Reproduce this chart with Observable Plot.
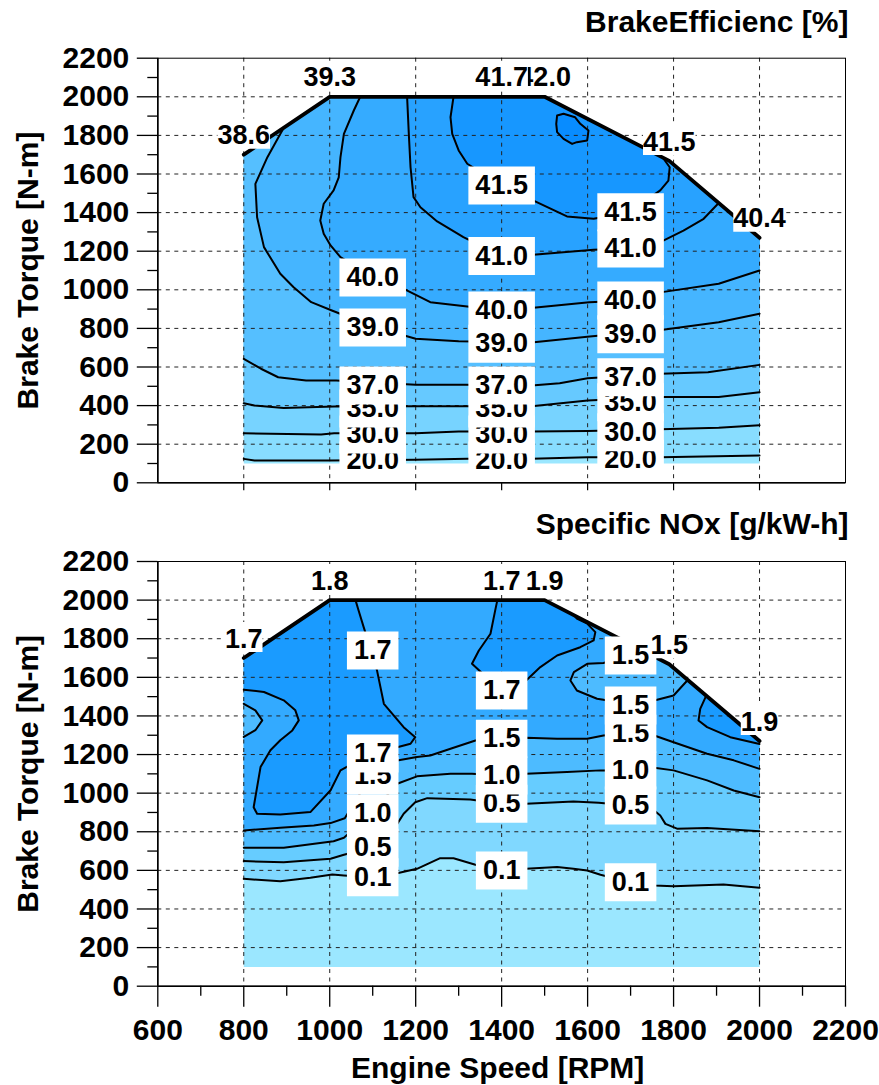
<!DOCTYPE html>
<html>
<head>
<meta charset="utf-8">
<script src="https://cdn.jsdelivr.net/npm/d3@7"></script>
<script src="https://cdn.jsdelivr.net/npm/@observablehq/plot@0.6"></script>
<style>
  body { margin: 0; background: #fff; }
  #bte { position: absolute; left: 0; top: 0; }
  #nox { position: absolute; left: 0; top: 503px; }
</style>
</head>
<body>
<div id="bte"></div>
<div id="nox"></div>
<script>
// ---- axes ----
const rpmMajor = [600, 800, 1000, 1200, 1400, 1600, 1800, 2000, 2200];
const rpmMinor = [700, 900, 1100, 1300, 1500, 1700, 1900, 2100];
const rpmGrid = [800, 1000, 1200, 1400, 1600, 1800, 2000];
const torqueMajor = [0, 200, 400, 600, 800, 1000, 1200, 1400, 1600, 1800, 2000, 2200];
const torqueMinor = [100, 300, 500, 700, 900, 1100, 1300, 1500, 1700, 1900, 2100];
const torqueGrid = [200, 400, 600, 800, 1000, 1200, 1400, 1600, 1800, 2000];

// ---- operating envelope [rpm, N-m] ----
const envelope = [[800, 100], [800, 1700], [1000, 2000], [1500, 2000], [1790, 1668], [2000, 1270], [2000, 100]];
const fullLoad = [[800, 1700], [1000, 2000], [1500, 2000], [1790, 1668], [2000, 1270]];

// ---- brake efficiency contours [%] ----
const bte20 = [[800, 124], [825, 116], [1000, 116], [1200, 119], [1320, 124], [1470, 124], [1600, 133], [1770, 133], [2000, 141]];
const bte30 = [[800, 257], [980, 250], [1010, 257], [1200, 257], [1300, 266], [1470, 266], [1600, 269], [1770, 278], [1905, 285], [2000, 298]];
const bte35 = [[800, 412], [825, 400], [893, 387], [1010, 395], [1200, 397], [1470, 397], [1600, 426], [1770, 444], [1905, 444], [2000, 469]];
const bte37 = [[800, 642], [840, 591], [880, 547], [945, 530], [1015, 530], [1200, 508], [1315, 508], [1470, 504], [1535, 516], [1600, 542], [1770, 565], [1880, 573], [2000, 611]];
const bte39 = [[893, 1840], [855, 1687], [827, 1549], [831, 1376], [847, 1221], [885, 1083], [916, 1013], [957, 936], [1005, 893], [1100, 810], [1200, 746], [1300, 734], [1475, 728], [1605, 758], [1775, 793], [1905, 832], [2000, 876]];
const bte40 = [[1071, 2000], [1056, 1929], [1033, 1808], [1025, 1687], [1021, 1583], [1009, 1515], [986, 1446], [978, 1359], [986, 1290], [1002, 1230], [1025, 1169], [1100, 1064], [1177, 1000], [1234, 936], [1320, 913], [1400, 893], [1474, 907], [1604, 936], [1696, 945], [1773, 988], [1905, 1031], [2000, 1100]];
const bte41 = [[1180, 2000], [1184, 1808], [1188, 1635], [1195, 1480], [1211, 1428], [1250, 1354], [1311, 1273], [1398, 1178], [1473, 1181], [1614, 1207], [1696, 1214], [1769, 1247], [1823, 1307], [1870, 1368], [1905, 1450]];
const bte415 = [[1288, 2000], [1281, 1894], [1285, 1808], [1300, 1722], [1320, 1653], [1400, 1541], [1473, 1463], [1552, 1380], [1614, 1368], [1696, 1402], [1769, 1515], [1788, 1566], [1791, 1635], [1775, 1685]];
const bte42 = [[1529, 1903], [1544, 1912], [1571, 1894], [1583, 1860], [1602, 1825], [1599, 1774], [1575, 1765], [1564, 1756], [1544, 1782], [1529, 1817], [1527, 1860]];

const bteLabels = [
  [1100, 116, "20.0"], [1100, 250, "30.0"], [1100, 385, "35.0"], [1100, 504, "37.0"], [1100, 805, "39.0"], [1100, 1064, "40.0"],
  [1400, 116, "20.0"], [1400, 250, "30.0"], [1400, 385, "35.0"], [1400, 504, "37.0"], [1400, 720, "39.0"], [1400, 893, "40.0"], [1400, 1175, "41.0"], [1400, 1541, "41.5"],
  [1700, 124, "20.0"], [1700, 262, "30.0"], [1700, 418, "35.0"], [1700, 547, "37.0"], [1700, 770, "39.0"], [1700, 945, "40.0"], [1700, 1214, "41.0"], [1700, 1402, "41.5"]
];
const bteRimLabels = [[800, 1700, "38.6"], [1000, 2000, "39.3"], [1500, 2000, "42.0"], [1400, 2000, "41.7"], [1790, 1668, "41.5"], [2000, 1270, "40.4"]];

// ---- specific NOx contours [g/kW-h] ----
const nox01 = [[800, 556], [885, 544], [955, 562], [1006, 579], [1033, 574], [1096, 565], [1157, 585], [1203, 608], [1257, 663], [1288, 663], [1339, 629], [1398, 599], [1457, 608], [1529, 617], [1567, 608], [1599, 599], [1630, 577], [1696, 539], [1755, 522], [1800, 518], [1916, 527], [2000, 510]];
const nox05 = [[800, 648], [893, 642], [1002, 660], [1033, 681], [1096, 717], [1157, 841], [1172, 893], [1199, 953], [1227, 974], [1327, 967], [1398, 945], [1457, 945], [1567, 957], [1626, 950], [1696, 936], [1755, 910], [1769, 884], [1781, 841], [1808, 816], [1878, 819], [2000, 803]];
const nox10 = [[800, 717], [893, 717], [1009, 751], [1033, 769], [1096, 893], [1157, 1049], [1203, 1087], [1281, 1100], [1331, 1100], [1398, 1092], [1457, 1100], [1552, 1109], [1630, 1118], [1696, 1118], [1755, 1132], [1800, 1118], [1878, 1066], [1940, 1014], [2000, 979]];
const nox15 = [[800, 807], [885, 821], [963, 832], [1002, 845], [1035, 870], [1096, 1090], [1157, 1169], [1203, 1187], [1234, 1195], [1281, 1230], [1339, 1273], [1398, 1282], [1457, 1287], [1529, 1282], [1599, 1282], [1637, 1299], [1696, 1308], [1755, 1299], [1800, 1264], [1878, 1204], [1940, 1170], [2000, 1126]];
const nox15Left = [[800, 1463], [827, 1429], [843, 1377], [827, 1326], [800, 1291]];
const nox15Right = [[1730, 1737], [1637, 1674], [1599, 1670], [1568, 1627], [1560, 1584], [1575, 1532], [1622, 1489], [1637, 1484], [1696, 1454], [1755, 1480], [1800, 1506], [1833, 1586]];
const nox17Low = [[1060, 2000], [1067, 1947], [1079, 1860], [1096, 1739], [1110, 1636], [1126, 1463], [1172, 1342], [1199, 1290], [1188, 1256], [1157, 1238], [1096, 1205], [1025, 1118], [1002, 1015], [955, 902], [885, 890], [831, 893], [823, 927], [839, 1135], [862, 1222], [885, 1274], [913, 1325], [928, 1377], [920, 1429], [893, 1481], [847, 1524], [800, 1536]];
const nox17Mid = [[1390, 2000], [1385, 1947], [1374, 1826], [1347, 1739], [1331, 1670], [1398, 1532], [1457, 1584], [1490, 1653], [1529, 1713], [1583, 1756], [1614, 1791], [1618, 1834], [1599, 1878], [1575, 1904], [1568, 1922]];
const nox17High = [[1876, 1505], [1862, 1437], [1858, 1376], [1878, 1342], [1932, 1290], [2000, 1255]];

const noxLabels = [
  [1100, 565, "0.1"], [1100, 717, "0.5"], [1100, 893, "1.0"], [1100, 1090, "1.5"], [1100, 1205, "1.7"], [1100, 1739, "1.7"],
  [1400, 599, "0.1"], [1400, 945, "0.5"], [1400, 1092, "1.0"], [1400, 1282, "1.5"], [1400, 1532, "1.7"],
  [1700, 539, "0.1"], [1700, 936, "0.5"], [1700, 1118, "1.0"], [1700, 1308, "1.5"], [1700, 1454, "1.5"], [1700, 1713, "1.5"]
];
const noxRimLabels = [[800, 1700, "1.7"], [1000, 2000, "1.8"], [1500, 2000, "1.9"], [1400, 2000, "1.7"], [1790, 1668, "1.5"], [2000, 1270, "1.9"]];

// ---- band colours, lowest band first ----
const btePalette = ["#9be7ff", "#88ddff", "#77d3ff", "#66c9ff", "#55bfff", "#45b5ff", "#35abff", "#28a2ff", "#1797ff", "#088cff"];
const noxPalette = ["#9be7ff", "#80d8ff", "#66ccff", "#4dbbff", "#33aaff", "#1a9bff"];

// ---------------------------------------------------------------
const FONT = "'Liberation Sans', Arial, Helvetica, sans-serif";
const AXIS_SIZE = 30, LABEL_SIZE = 27;
const rimBack = fullLoad.slice().reverse(); // (2000,1270) ... (800,1700)
const px = (d) => d[0], py = (d) => d[1];

function textWidth(s, size) {
  return [...s].reduce((w, c) => w + (c === "." ? 0.278 : 0.556), 0) * size;
}
function boxSymbol(w, h, oy) {
  return {draw(ctx) { ctx.rect(-w / 2, -h / 2 + oy, w, h); }};
}
function labelMarks(list, {size, padX, boxH, boxDy, dy}) {
  return list.flatMap(([rpm, torque, text]) => {
    const d = [{rpm, torque, text}];
    const w = textWidth(text, size) + 2 * padX;
    return [
      Plot.dot(d, {x: "rpm", y: "torque", r: 1, symbol: boxSymbol(w, boxH, boxDy), fill: "white", stroke: "none", dy}),
      Plot.text(d, {x: "rpm", y: "torque", text: "text", dy, fontSize: size, fontWeight: "bold", fill: "black"})
    ];
  });
}
function regionMarks(regions, palette) {
  return regions.map(([poly, band]) => Plot.line(poly, {x: px, y: py, fill: palette[band], stroke: "none"}));
}
function contourMarks(lines) {
  return lines.map((l) => Plot.line(l, {x: px, y: py, stroke: "black", strokeWidth: 2, curve: l.closed ? "linear-closed" : "linear"}));
}
function frameMarks() {
  return [
    Plot.gridX(rpmGrid, {stroke: "#222", strokeOpacity: 1, strokeWidth: 1, strokeDasharray: "4,4.5"}),
    Plot.gridY(torqueGrid, {stroke: "#222", strokeOpacity: 1, strokeWidth: 1, strokeDasharray: "4,4.5"}),
    Plot.frame({stroke: "black", strokeWidth: 1}),
    Plot.ruleX([600], {stroke: "black", strokeWidth: 1.6}),
    Plot.ruleY([0], {stroke: "black", strokeWidth: 1.6}),
    Plot.axisY(torqueMajor, {tickSize: 20.5, tickPadding: 8, tickFormat: "d", fontSize: AXIS_SIZE, fontWeight: "bold", strokeWidth: 1.3, label: null}),
    Plot.axisY(torqueMinor, {tickSize: 10, tickFormat: () => "", strokeWidth: 1.3, label: null})
  ];
}
function panelText(title, titleDy) {
  return [
    Plot.text([title], {frameAnchor: "top-right", textAnchor: "end", lineAnchor: "middle", dx: 3, dy: titleDy, fontSize: AXIS_SIZE, fontWeight: "bold", fill: "black"}),
    Plot.text(["Brake Torque [N-m]"], {frameAnchor: "left", textAnchor: "middle", lineAnchor: "middle", rotate: -90, dx: -129.5, fontSize: AXIS_SIZE, fontWeight: "bold", fill: "black"})
  ];
}
const rimLine = Plot.line(fullLoad, {x: px, y: py, stroke: "black", strokeWidth: 3.8, strokeLinejoin: "miter"});

// ---- brake efficiency panel ----
bte42.closed = true;
const bteRegions = [
  [envelope, 0],
  [[...bte20, ...rimBack], 1],
  [[...bte30, ...rimBack], 2],
  [[...bte35, ...rimBack], 3],
  [[...bte37, ...rimBack], 4],
  [[...bte39, ...rimBack.slice(0, 4)], 5],
  [[...bte40, ...rimBack.slice(0, 3)], 6],
  [[...bte41, ...rimBack.slice(1, 3)], 7],
  [[...bte415, ...rimBack.slice(2, 3)], 8],
  [bte42, 9]
];

const bteChart = Plot.plot({
  width: 879, height: 500,
  marginLeft: 157.3, marginRight: 34, marginTop: 57.7, marginBottom: 17.7,
  x: {domain: [600, 2200], axis: null},
  y: {domain: [0, 2200], axis: null},
  style: {fontFamily: FONT, color: "black", background: "white", overflow: "visible"},
  marks: [
    ...regionMarks(bteRegions, btePalette),
    ...frameMarks(),
    Plot.axisX(rpmGrid, {tickSize: 8, tickFormat: () => "", strokeWidth: 1.2, label: null}),
    ...contourMarks([bte20, bte30, bte35, bte37, bte39, bte40, bte41, bte415, bte42]),
    rimLine,
    ...labelMarks(bteLabels, {size: LABEL_SIZE, padX: 7, boxH: 38, boxDy: 0, dy: 0}),
    ...labelMarks(bteRimLabels, {size: LABEL_SIZE, padX: 0, boxH: 30, boxDy: -2, dy: -19}),
    ...panelText("BrakeEfficienc [%]", -36)
  ]
});
document.getElementById("bte").append(bteChart);

// ---- specific NOx panel ----
const noxRegions = [
  [envelope, 0],
  [[...nox01, ...rimBack], 1],
  [[...nox05, ...rimBack], 2],
  [[...nox10, ...rimBack], 3],
  [[...nox15, ...rimBack], 4],
  [nox15Left, 3],
  [[...nox15Right, rimBack[1]], 3],
  [[...nox17Low, rimBack[4], rimBack[3]], 5],
  [[...nox17Mid, rimBack[2]], 5],
  [[...nox17High, rimBack[0]], 5]
];

const noxChart = Plot.plot({
  width: 879, height: 582,
  marginLeft: 157.3, marginRight: 34, marginTop: 58, marginBottom: 99.3,
  x: {domain: [600, 2200], axis: null},
  y: {domain: [0, 2200], axis: null},
  style: {fontFamily: FONT, color: "black", background: "white", overflow: "visible"},
  marks: [
    ...regionMarks(noxRegions, noxPalette),
    ...frameMarks(),
    Plot.axisX(rpmMajor, {tickSize: 21, tickPadding: 11, tickFormat: "d", fontSize: AXIS_SIZE, fontWeight: "bold", strokeWidth: 1.3, label: null}),
    Plot.axisX(rpmMinor, {tickSize: 10, tickFormat: () => "", strokeWidth: 1.3, label: null}),
    ...contourMarks([nox01, nox05, nox10, nox15, nox15Left, nox15Right, nox17Low, nox17Mid, nox17High]),
    rimLine,
    ...labelMarks(noxLabels, {size: LABEL_SIZE, padX: 7, boxH: 38, boxDy: 0, dy: 0}),
    ...labelMarks(noxRimLabels, {size: LABEL_SIZE, padX: 0, boxH: 30, boxDy: -2, dy: -19}),
    ...panelText("Specific NOx [g/kW-h]", -37),
    Plot.text(["Engine Speed [RPM]"], {frameAnchor: "bottom", textAnchor: "middle", lineAnchor: "middle", dy: 82, dx: -4, fontSize: AXIS_SIZE, fontWeight: "bold", fill: "black"})
  ]
});
document.getElementById("nox").append(noxChart);
</script>
</body>
</html>
